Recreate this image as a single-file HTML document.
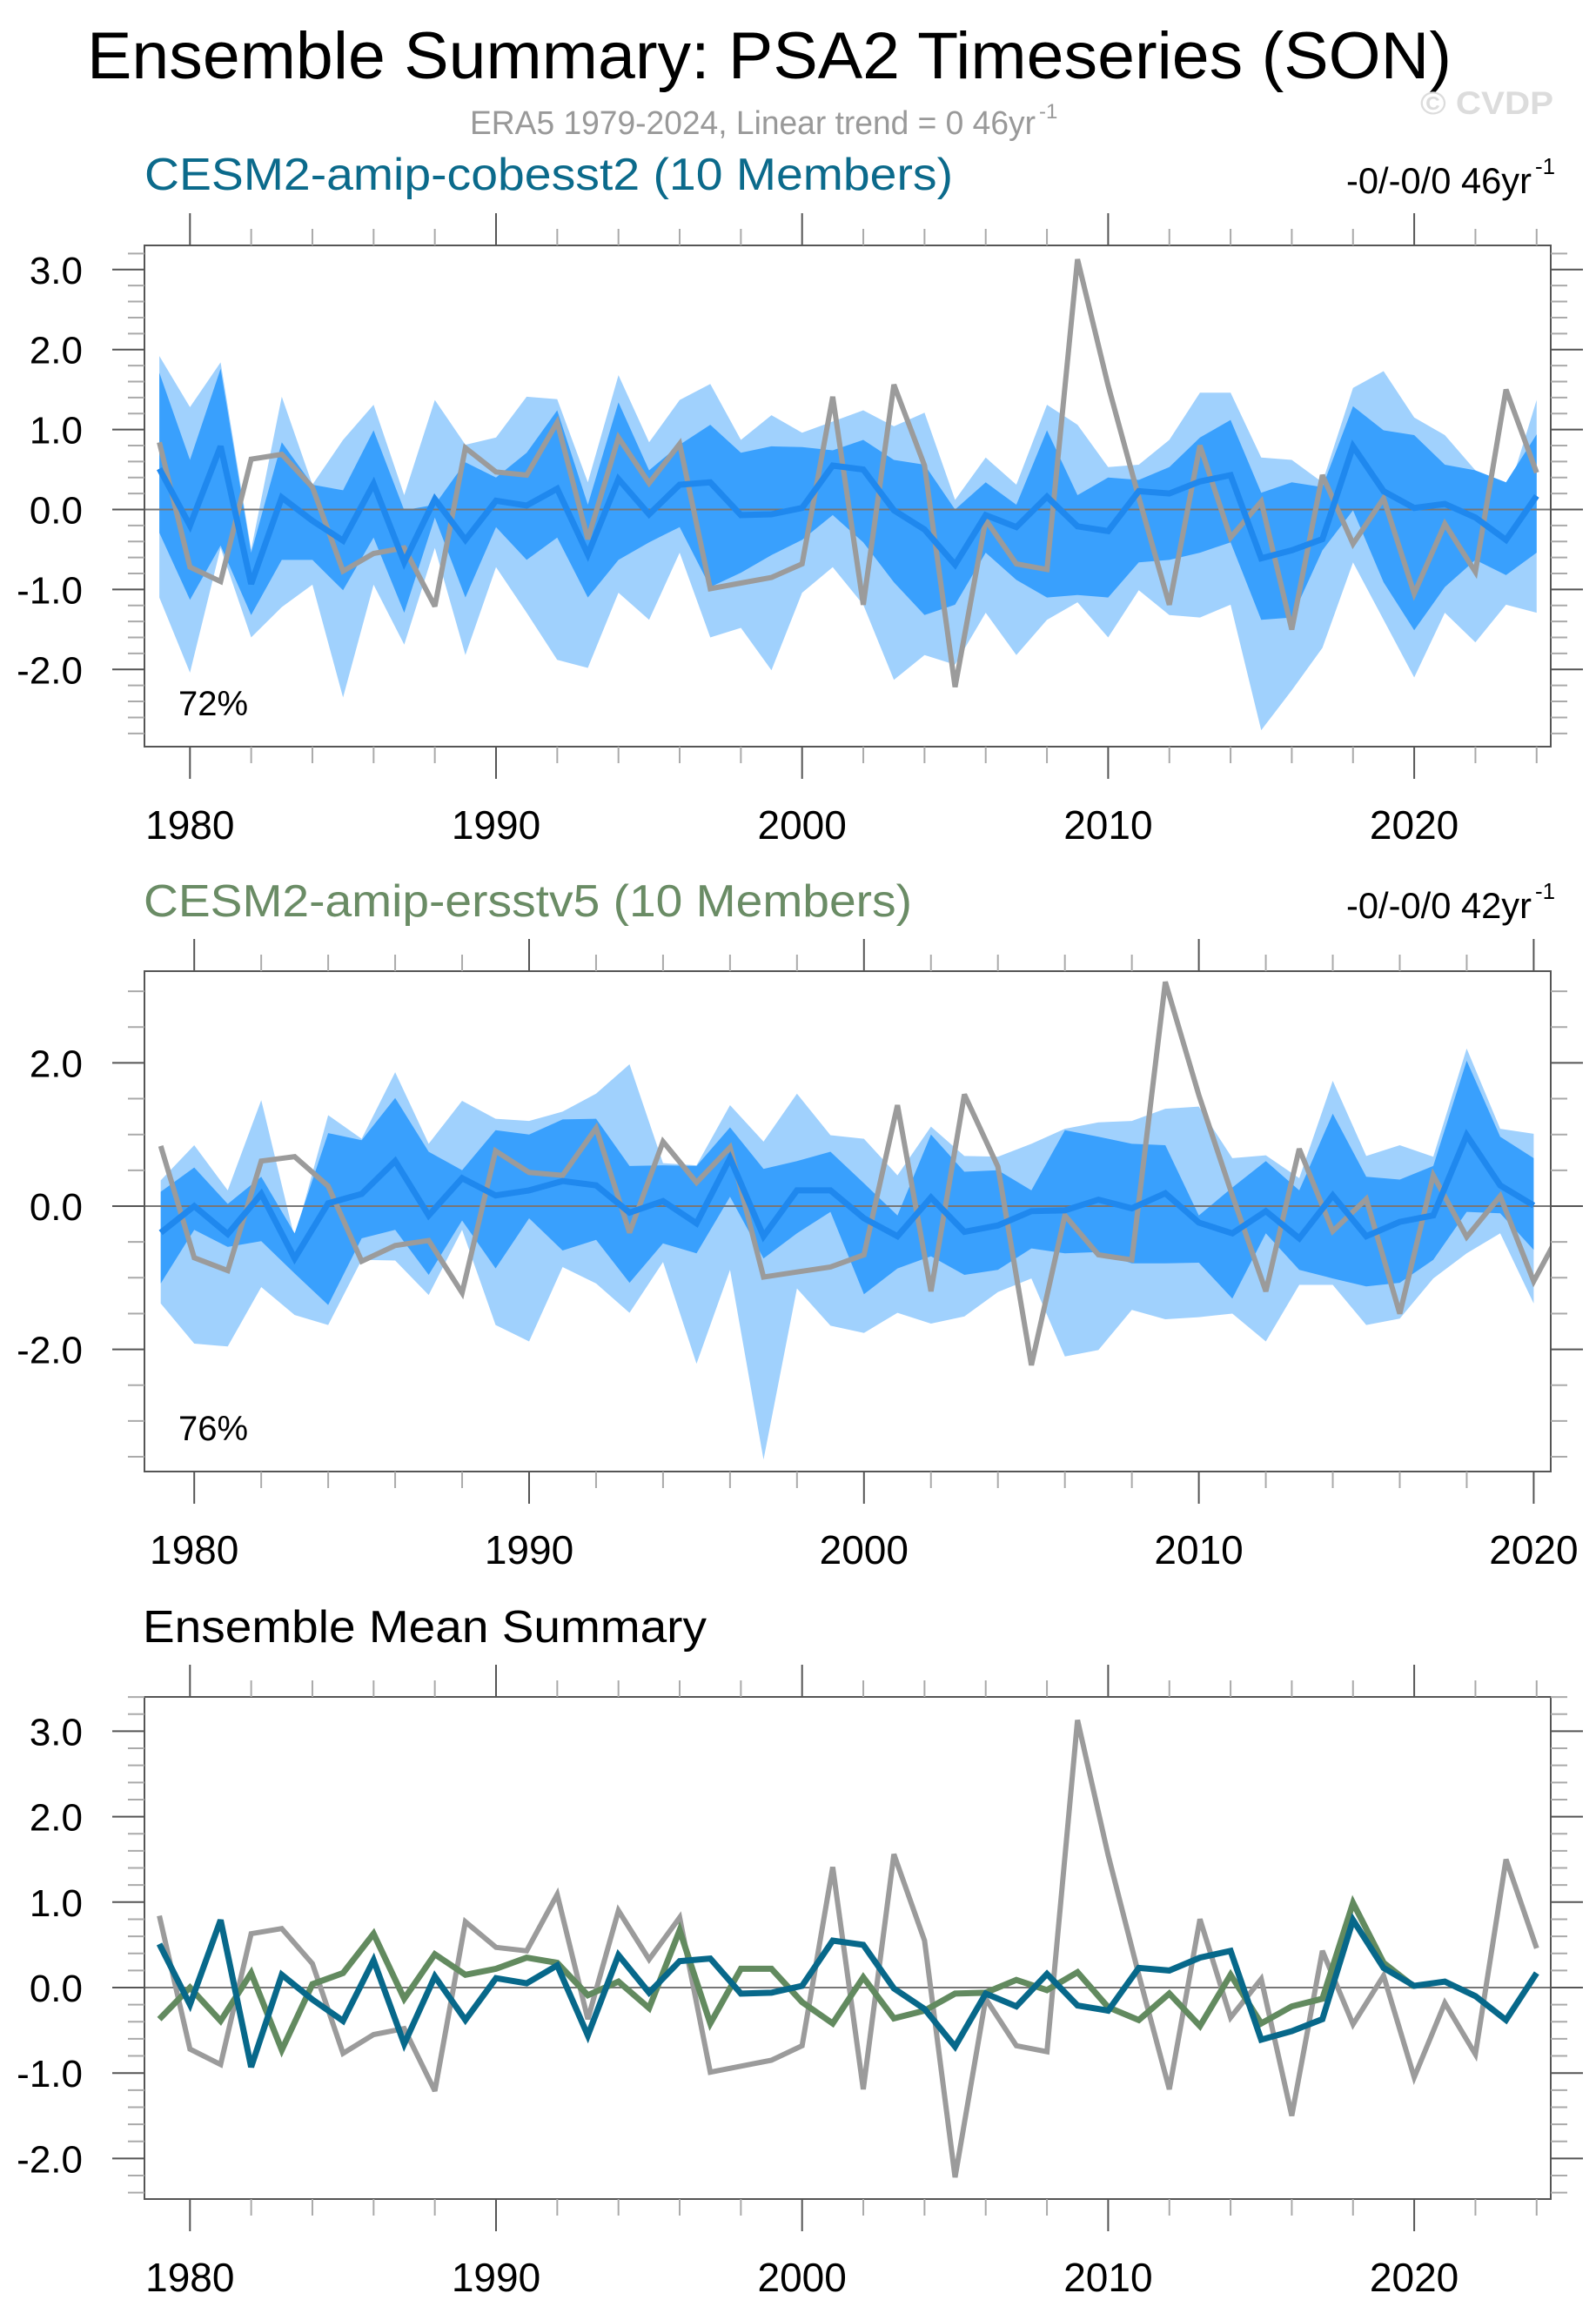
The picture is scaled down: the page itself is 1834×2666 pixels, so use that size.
<!DOCTYPE html>
<html><head><meta charset="utf-8">
<style>
html,body{margin:0;padding:0;background:#fff;}
svg{display:block;}
text{font-family:"Liberation Sans",Arial,sans-serif;}
</style></head>
<body>
<svg id="chart" width="1834" height="2666" viewBox="0 0 1834 2666" xmlns="http://www.w3.org/2000/svg">
  <rect x="0" y="0" width="1834" height="2666" fill="#fff"/>
  <text x="100" y="90" font-size="76" textLength="1568" lengthAdjust="spacingAndGlyphs" fill="#000">Ensemble Summary: PSA2 Timeseries (SON)</text>
  <text x="540" y="154" font-size="38" fill="#999" textLength="650" lengthAdjust="spacingAndGlyphs">ERA5 1979-2024, Linear trend = 0 46yr</text>
  <text x="1194" y="136" font-size="24" fill="#999">-1</text>
  <text x="1632" y="131" font-size="37" font-weight="bold" fill="#dcdcdc" textLength="153" lengthAdjust="spacingAndGlyphs">© CVDP</text>

  <text x="166" y="218" font-size="52" fill="#0b6a8b" textLength="929" lengthAdjust="spacingAndGlyphs">CESM2-amip-cobesst2 (10 Members)</text>
  <text x="1547" y="222" font-size="42" fill="#000" textLength="213" lengthAdjust="spacingAndGlyphs">-0/-0/0 46yr</text>
  <text x="1764" y="200" font-size="26" fill="#000">-1</text>

  <text x="165" y="1053" font-size="52" fill="#6a8c65" textLength="883" lengthAdjust="spacingAndGlyphs">CESM2-amip-ersstv5 (10 Members)</text>
  <text x="1547" y="1055" font-size="42" fill="#000" textLength="213" lengthAdjust="spacingAndGlyphs">-0/-0/0 42yr</text>
  <text x="1764" y="1033" font-size="26" fill="#000">-1</text>

  <text x="164" y="1887" font-size="52" fill="#000" textLength="648" lengthAdjust="spacingAndGlyphs">Ensemble Mean Summary</text>
</svg>
<script>
// ---- data ----
const yearsObs = [1979,1980,1981,1982,1983,1984,1985,1986,1987,1988,1989,1990,1991,1992,1993,1994,1995,1996,1997,1998,1999,2000,2001,2002,2003,2004,2005,2006,2007,2008,2009,2010,2011,2012,2013,2014,2015,2016,2017,2018,2019,2020,2021,2022,2023,2024];
const obsERA5 = [0.84,-0.72,-0.90,0.63,0.69,0.28,-0.77,-0.55,-0.48,-1.21,0.77,0.47,0.43,1.09,-0.37,0.90,0.33,0.82,-0.99,-0.92,-0.85,-0.68,1.41,-1.19,1.56,0.55,-2.22,-0.13,-0.68,-0.75,3.13,1.55,0.15,-1.19,0.80,-0.35,0.10,-1.50,0.43,-0.43,0.14,-1.05,-0.18,-0.78,1.50,0.46];

const yearsM1 = yearsObs;
const m1Mean = [0.51,-0.20,0.79,-0.93,0.15,-0.14,-0.39,0.32,-0.66,0.13,-0.38,0.11,0.05,0.26,-0.56,0.38,-0.06,0.31,0.34,-0.07,-0.06,0.02,0.55,0.50,-0.01,-0.25,-0.69,-0.07,-0.22,0.16,-0.21,-0.27,0.23,0.20,0.35,0.43,-0.61,-0.51,-0.37,0.79,0.23,0.02,0.07,-0.10,-0.38,0.17];
const m1Max = [1.92,1.28,1.84,-0.50,1.41,0.31,0.87,1.31,0.18,1.37,0.81,0.90,1.41,1.38,0.34,1.68,0.84,1.37,1.57,0.87,1.18,0.96,1.10,1.24,1.04,1.21,0.12,0.65,0.31,1.31,1.06,0.53,0.56,0.87,1.46,1.46,0.65,0.62,0.34,1.52,1.73,1.15,0.93,0.49,0.12,1.37];
const m1Min = [-1.10,-2.04,-0.48,-1.60,-1.22,-0.94,-2.35,-0.94,-1.69,-0.48,-1.82,-0.72,-1.29,-1.88,-1.98,-1.04,-1.38,-0.54,-1.60,-1.48,-2.01,-1.04,-0.72,-1.19,-2.13,-1.82,-1.94,-1.29,-1.82,-1.38,-1.16,-1.60,-1.01,-1.32,-1.35,-1.19,-2.76,-2.26,-1.73,-0.66,-1.38,-2.10,-1.29,-1.66,-1.19,-1.29];
const m1Q75 = [1.71,0.62,1.76,-0.54,0.84,0.31,0.24,0.99,-0.01,0.06,0.59,0.40,0.71,1.24,0.06,1.34,0.49,0.81,1.06,0.71,0.79,0.78,0.74,0.87,0.62,0.56,0.00,0.34,0.06,0.99,0.18,0.40,0.37,0.53,0.90,1.12,0.21,0.34,0.28,1.29,0.99,0.93,0.56,0.49,0.34,0.94];
const m1Q25 = [-0.29,-1.13,-0.45,-1.32,-0.63,-0.63,-1.01,-0.35,-1.29,-0.10,-1.10,-0.22,-0.63,-0.35,-1.10,-0.63,-0.41,-0.22,-0.97,-0.79,-0.57,-0.38,-0.07,-0.41,-0.91,-1.32,-1.19,-0.54,-0.88,-1.10,-1.07,-1.10,-0.66,-0.63,-0.54,-0.41,-1.38,-1.35,-0.51,-0.01,-0.91,-1.51,-0.97,-0.63,-0.82,-0.54];

const yearsM2 = [1979,1980,1981,1982,1983,1984,1985,1986,1987,1988,1989,1990,1991,1992,1993,1994,1995,1996,1997,1998,1999,2000,2001,2002,2003,2004,2005,2006,2007,2008,2009,2010,2011,2012,2013,2014,2015,2016,2017,2018,2019,2020];
const m2Mean = [-0.37,0.00,-0.39,0.17,-0.73,0.04,0.17,0.63,-0.13,0.39,0.15,0.22,0.35,0.29,-0.09,0.07,-0.24,0.67,-0.42,0.22,0.22,-0.17,-0.42,0.12,-0.36,-0.27,-0.07,-0.06,0.09,-0.03,0.18,-0.23,-0.38,-0.07,-0.45,0.15,-0.42,-0.22,-0.13,0.99,0.29,0.01];
const m2Max = [0.36,0.85,0.22,1.48,-0.45,1.27,0.94,1.87,0.87,1.47,1.22,1.19,1.32,1.57,1.98,0.60,0.57,1.41,0.90,1.57,0.99,0.94,0.43,1.11,0.70,0.69,0.87,1.08,1.17,1.19,1.36,1.39,0.67,0.71,0.39,1.75,0.70,0.85,0.69,2.20,1.08,1.01];
const m2Min = [-1.36,-1.92,-1.96,-1.13,-1.52,-1.66,-0.75,-0.76,-1.24,-0.33,-1.66,-1.89,-0.85,-1.08,-1.49,-0.78,-2.20,-0.89,-3.54,-1.15,-1.67,-1.77,-1.49,-1.64,-1.54,-1.20,-1.01,-2.10,-2.01,-1.45,-1.58,-1.55,-1.50,-1.89,-1.10,-1.10,-1.66,-1.57,-1.01,-0.66,-0.38,-1.36];
const m2Q75 = [0.20,0.54,0.03,0.41,-0.38,1.02,0.92,1.51,0.76,0.50,1.06,1.00,1.21,1.22,0.56,0.57,0.56,1.10,0.52,0.63,0.76,0.32,-0.13,1.00,0.48,0.50,0.22,1.06,0.97,0.87,0.85,-0.13,0.26,0.63,0.22,1.29,0.41,0.37,0.56,2.03,0.97,0.67];
const m2Q25 = [-1.08,-0.33,-0.57,-0.49,-0.94,-1.38,-0.45,-0.33,-0.96,-0.20,-0.87,-0.17,-0.62,-0.47,-1.07,-0.52,-0.66,0.13,-0.73,-0.38,-0.08,-1.23,-0.87,-0.70,-0.96,-0.89,-0.59,-0.66,-0.64,-0.80,-0.80,-0.79,-1.29,-0.38,-0.89,-1.01,-1.12,-1.07,-0.75,-0.08,-0.10,-0.61];

const xTickLabels = ["1980","1990","2000","2010","2020"];
const y1TickLabels = ["-2.0","-1.0","0.0","1.0","2.0","3.0"];
const y2TickLabels = ["-2.0","0.0","2.0"];
const pctLabels = ["72%","76%"];

// ---- drawing ----
const NS = "http://www.w3.org/2000/svg";
const svg = document.getElementById("chart");
function mk(tag, attrs, parent) {
  const e = document.createElementNS(NS, tag);
  for (const k in attrs) e.setAttribute(k, attrs[k]);
  (parent || svg).appendChild(e);
  return e;
}
function panel(cfg) {
  const g = mk("g", {});
  
  
  const xs = y => cfg.x0 + (y - 1980) * cfg.xpy;
  const ys = v => cfg.zero - v * cfg.ypu;
  const L = 166, R = 1782, T = cfg.top, B = cfg.bottom;
  const cid = "clip-" + cfg.name;
  const defs = mk("defs", {}, g);
  const cp = mk("clipPath", {id: cid}, defs);
  mk("rect", {x: L, y: T, width: R - L, height: B - T}, cp);
  const body = mk("g", {"clip-path": "url(#" + cid + ")"}, g);
  function band(years, hi, lo, color, nm) {
    let d = "";
    years.forEach((y, i) => { d += (i ? "L" : "M") + xs(y).toFixed(1) + "," + ys(hi[i]).toFixed(1); });
    for (let i = years.length - 1; i >= 0; i--) d += "L" + xs(years[i]).toFixed(1) + "," + ys(lo[i]).toFixed(1);
    const p = mk("path", {d: d + "Z", fill: color, stroke: "none"}, body);
    
    
  }
  function line(years, vals, color, w, nm) {
    const pts = years.map((y, i) => xs(y).toFixed(1) + "," + ys(vals[i]).toFixed(1)).join(" ");
    const p = mk("polyline", {points: pts, fill: "none", stroke: color, "stroke-width": w, "stroke-linejoin": "miter", "stroke-miterlimit": 3}, body);
    
    
  }
  if (cfg.bands) {
    band(cfg.years, cfg.max, cfg.min, "#a0d1fd", "ensemble-range-band");
    band(cfg.years, cfg.q75, cfg.q25, "#39a0fd", "ensemble-iqr-band");
  }
  const zl = mk("line", {x1: L, x2: R, y1: ys(0), y2: ys(0), stroke: "#777", "stroke-width": 2}, body);
  
  
  cfg.lines.forEach(l => line(l.years, l.vals, l.color, l.w, l.name));
  const fr = mk("rect", {x: L, y: T, width: R - L, height: B - T, fill: "none", stroke: "#555", "stroke-width": 2}, g);
  
  
  for (let yr = cfg.xMinTick; yr <= cfg.xMaxTick; yr += 2) {
    const x = xs(yr), major = yr % 10 === 0, len = major ? 37 : 19;
    const c = major ? "#555" : "#aaa";
    mk("line", {x1: x, x2: x, y1: T, y2: T - len, stroke: c, "stroke-width": 2}, g);
    mk("line", {x1: x, x2: x, y1: B, y2: B + len, stroke: c, "stroke-width": 2}, g);
  }
  xTickLabels.forEach(lab => {
    const t = mk("text", {x: xs(+lab), y: B + 106, "font-size": 46, "text-anchor": "middle", fill: "#000"}, g);
    
    
    t.textContent = lab;
  });
  const nMin = Math.ceil(cfg.yLo / cfg.yMinor - 1e-6), nMax = Math.floor(cfg.yHi / cfg.yMinor + 1e-6);
  for (let n = nMin; n <= nMax; n++) {
    const v = n * cfg.yMinor, y = ys(v);
    const major = Math.abs(v / cfg.yMajor - Math.round(v / cfg.yMajor)) < 1e-6;
    const len = major ? 37 : 19, c = major ? "#555" : "#aaa";
    mk("line", {x1: L, x2: L - len, y1: y, y2: y, stroke: c, "stroke-width": 2}, g);
    mk("line", {x1: R, x2: R + len, y1: y, y2: y, stroke: c, "stroke-width": 2}, g);
  }
  cfg.yLabels.forEach(lab => {
    const t = mk("text", {x: 95, y: ys(parseFloat(lab)) + 16, "font-size": 44, "text-anchor": "end", fill: "#000"}, g);
    
    
    t.textContent = lab;
  });
  if (cfg.pct) {
    const t = mk("text", {x: 205, y: cfg.pctY, "font-size": 40, fill: "#000"}, g);
    
    
    t.textContent = cfg.pct;
  }
}

panel({name: "panel-cobesst2", x0: 218.3, xpy: 35.17, zero: 585.5, ypu: 91.9, top: 282, bottom: 858,
  xMinTick: 1980, xMaxTick: 2024, yLo: -2.9, yHi: 3.3, yMinor: 0.2, yMajor: 1, yLabels: y1TickLabels,
  bands: true, years: yearsM1, max: m1Max, min: m1Min, q75: m1Q75, q25: m1Q25,
  lines: [{years: yearsObs, vals: obsERA5, color: "#9b9b9b", w: 6, name: "era5-obs-line"},
          {years: yearsM1, vals: m1Mean, color: "#1f88ee", w: 7, name: "ensemble-mean-line"}],
  pct: pctLabels[0], pctY: 822});

panel({name: "panel-ersstv5", x0: 223.2, xpy: 38.48, zero: 1386, ypu: 82.3, top: 1116, bottom: 1691,
  xMinTick: 1980, xMaxTick: 2020, yLo: -3.6, yHi: 3.2, yMinor: 0.5, yMajor: 2, yLabels: y2TickLabels,
  bands: true, years: yearsM2, max: m2Max, min: m2Min, q75: m2Q75, q25: m2Q25,
  lines: [{years: yearsObs, vals: obsERA5, color: "#9b9b9b", w: 6, name: "era5-obs-line"},
          {years: yearsM2, vals: m2Mean, color: "#1f88ee", w: 7, name: "ensemble-mean-line"}],
  pct: pctLabels[1], pctY: 1655});

panel({name: "panel-ensemble-mean", x0: 218.3, xpy: 35.17, zero: 2284, ypu: 98.2, top: 1950, bottom: 2527,
  xMinTick: 1980, xMaxTick: 2024, yLo: -2.4, yHi: 3.4, yMinor: 0.2, yMajor: 1, yLabels: y1TickLabels,
  bands: false,
  lines: [{years: yearsObs, vals: obsERA5, color: "#9b9b9b", w: 6, name: "era5-obs-line"},
          {years: yearsM2, vals: m2Mean, color: "#628a5f", w: 7, name: "ersstv5-mean-line"},
          {years: yearsM1, vals: m1Mean, color: "#07688a", w: 7, name: "cobesst2-mean-line"}]});
</script>
</body></html>
